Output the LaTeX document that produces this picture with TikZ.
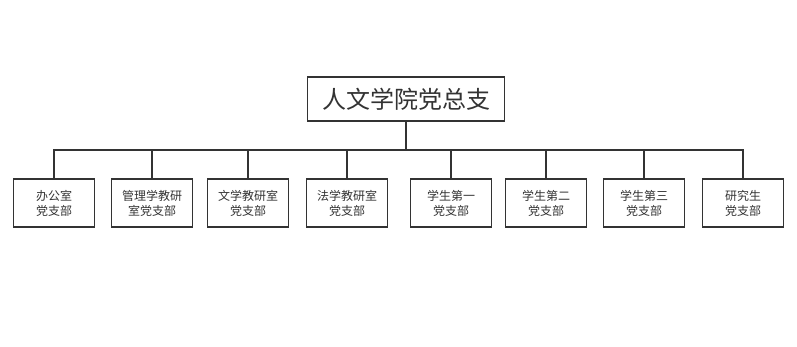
\documentclass[tikz,border=0pt]{standalone}
\usepackage{fontspec}
\newfontfamily\cjk{Noto Sans CJK SC}
\definecolor{lc}{HTML}{333333}
\definecolor{tc}{HTML}{333333}
\begin{document}
\begin{tikzpicture}[x=1pt,y=-1pt,
  topbox/.style={draw=lc,line width=1.5pt,minimum width=197pt,minimum height=44pt,inner sep=0pt,font=\cjk\fontsize{24}{28}\selectfont,text=tc},
  childbox/.style={draw=lc,line width=1.5pt,minimum width=81pt,minimum height=48pt,inner sep=0pt,align=center,font=\cjk\fontsize{12}{15}\selectfont,text=tc},
  conn/.style={draw=lc,line width=1.5pt}]
\useasboundingbox (0,0) rectangle (797,346);
\node[topbox] (top) at (406,99) {人文学院党总支};
\coordinate (j) at (406,150);
\node[childbox] (c1) at (54,203) {办公室\\党支部};
\node[childbox] (c2) at (152,203) {管理学教研\\室党支部};
\node[childbox] (c3) at (248,203) {文学教研室\\党支部};
\node[childbox] (c4) at (347,203) {法学教研室\\党支部};
\node[childbox] (c5) at (451,203) {学生第一\\党支部};
\node[childbox] (c6) at (546,203) {学生第二\\党支部};
\node[childbox] (c7) at (644,203) {学生第三\\党支部};
\node[childbox] (c8) at (743,203) {研究生\\党支部};
\draw[conn] (top.south) -- (j);
\draw[conn] (c1.north) |- (j) -| (c8.north);
\foreach \i in {2,...,7} \draw[conn] (c\i.north) |- (j);
\end{tikzpicture}
\end{document}
